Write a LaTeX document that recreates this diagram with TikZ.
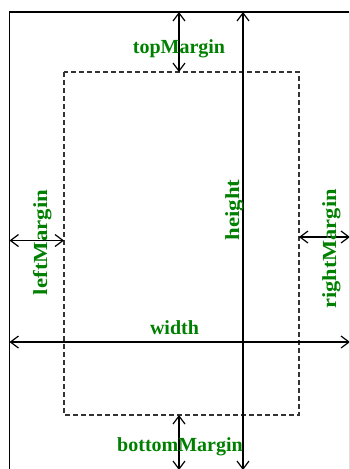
\documentclass[tikz,border=0pt]{standalone}
\usepackage{fontspec}
\setmainfont{Liberation Serif}
\usepackage{graphicx}
\usepackage{tikz}
\usetikzlibrary{arrows.meta}
\definecolor{lblgreen}{RGB}{0,128,0}

\begin{document}
\begin{tikzpicture}[x=1pt,y=-1pt]
	\tikzstyle{every node}+=[inner sep=0pt]
	\tikzstyle{lbl}=[text=lblgreen,font=\fontsize{20}{24}\selectfont\bfseries,anchor=base]
	\tikzstyle{dim}=[black,line width=1.2pt,{Straight Barb[length=8pt,width=12pt]}-{Straight Barb[length=8pt,width=12pt]}]
	\useasboundingbox (0,0) rectangle (349,469);
	\clip (0,0) rectangle (349,469);
	% page and margin box
	\coordinate (pageTL) at (9.5,12);
	\coordinate (pageBR) at (350,470);
	\coordinate (boxTL) at (64,72);
	\coordinate (boxBR) at (299,415);
	\draw [black,line width=1.1pt] (pageTL) rectangle (pageBR);
	\draw [black!80,line width=1.3pt,dash pattern=on 5pt off 3pt] (boxTL) rectangle (boxBR);
	% arrow end points
	\coordinate (topA) at (179,12);
	\coordinate (topB) at (179,72);
	\coordinate (heightA) at (243,12);
	\coordinate (heightB) at (243,470);
	\coordinate (leftA) at (9.5,240.5);
	\coordinate (leftB) at (64,240.5);
	\coordinate (rightA) at (299,237);
	\coordinate (rightB) at (350,237);
	\coordinate (widthA) at (9.5,342);
	\coordinate (widthB) at (350,342);
	\coordinate (bottomA) at (179,415);
	\coordinate (bottomB) at (179,470);
	\draw [dim] (topA) -- (topB);
	\draw [dim] (heightA) -- (heightB);
	\draw [dim] (leftA) -- (leftB);
	\draw [dim] (rightA) -- (rightB);
	\draw [dim] (widthA) -- (widthB);
	\draw [dim] (bottomA) -- (bottomB);
	% labels
	\node [lbl] (topLbl) at (179,53) {topMargin};
	\node [lbl] (bottomLbl) at (180,451) {bottomMargin};
	\node [lbl] (widthLbl) at (174.5,334) {width};
	\node [lbl,rotate=90] (heightLbl) at (239,210) {\scalebox{1.14}[1]{height}};
	\node [lbl,rotate=90] (leftLbl) at (47,242.5) {\scalebox{1.14}[1]{leftMargin}};
	\node [lbl,rotate=90] (rightLbl) at (336,249) {\scalebox{1.12}[1]{rightMargin}};
\end{tikzpicture}
\end{document}
